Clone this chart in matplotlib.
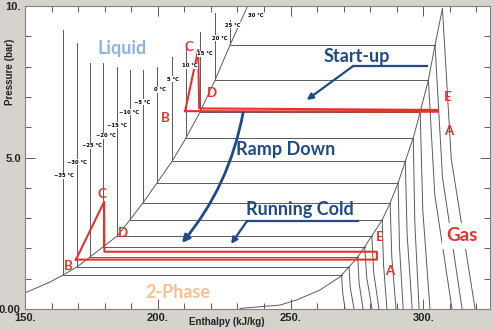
import matplotlib
matplotlib.use('Agg')
import matplotlib.pyplot as plt

# saturated liquid / vapour lines (h kJ/kg, P bar)
liq_h = [150.0, 159.4, 164.3, 169.6, 174.5, 179.4, 184.7, 189.5, 194.4, 199.7,
         205.4, 210.6, 215.9, 221.6, 227.2, 234.0]
liq_p = [0.53, 0.89, 1.12, 1.39, 1.72, 2.05, 2.41, 2.94, 3.50, 4.16,
         4.88, 5.64, 6.50, 7.56, 8.71, 10.03]
vap_h = [231.0, 246.0, 252.4, 261.1, 268.6, 271.6, 275.0, 278.1, 281.1, 284.5,
         287.5, 290.5, 293.1, 296.3, 298.8, 301.9, 304.4, 307.2]
vap_p = [0.02, 0.13, 0.30, 0.63, 1.06, 1.35, 1.68, 2.08, 2.48, 2.94,
         3.50, 4.16, 4.85, 5.68, 6.50, 7.56, 8.71, 9.92]

# isotherms (-35 .. 25 C)
iso_hliq = [164.3, 169.6, 174.5, 179.4, 184.7, 189.5, 194.4, 199.7, 205.4, 210.6, 215.9, 221.6, 227.2]
iso_ptop = [9.21, 8.78, 8.12, 8.12, 7.99, 7.89, 7.89, 7.99, 8.32, 8.71, 9.14, 9.77, 9.54]
iso_psat = [1.12, 1.39, 1.72, 2.05, 2.41, 2.94, 3.50, 4.16, 4.88, 5.64, 6.50, 7.56, 8.71]
iso_hvap = [269.2, 272.0, 275.3, 277.9, 280.6, 284.5, 287.5, 290.5, 293.2, 296.2, 298.8, 301.9, 304.4]

# gas-region lines: start on vapour line, middle point, end at P = 0
gas_h0 = iso_hvap + [307.2]
gas_p0 = iso_psat + [9.92]
gas_hmid = [269.6, 272.5, 275.8, 278.7, 281.3, 285.0, 288.1, 291.0, 293.9, 296.8, 299.8, 304.3, 307.2, 310.5]
gas_hend = [270.5, 273.9, 277.3, 280.7, 283.3, 286.3, 289.7, 292.4, 295.8, 298.4, 302.5, 310.8, 314.6, 319.5]

# temperature labels
temp_labels = ['\u221235 \u00b0C', '\u221230 \u00b0C', '\u221225 \u00b0C', '\u221220 \u00b0C',
               '\u221215 \u00b0C', '\u221210 \u00b0C', '\u22125 \u00b0C', '0 \u00b0C', '5 \u00b0C',
               '10 \u00b0C', '15 \u00b0C', '20 \u00b0C', '25 \u00b0C', '30 \u00b0C']
temp_h = [164.7, 169.6, 175.2, 180.5, 184.6, 189.2, 194.1, 200.8, 205.7, 212.1, 217.8, 223.4, 228.3, 237.0]
temp_p = [4.39, 4.85, 5.38, 5.71, 6.07, 6.50, 6.83, 7.23, 7.59, 8.02, 8.42, 8.94, 9.37, 9.70]

# refrigeration cycles: B, C, D, E, A, B
startup_h = [210.3, 215.2, 215.6, 305.5, 305.5, 210.3]
startup_p = [6.53, 8.55, 6.62, 6.57, 6.51, 6.53]
cold_h = [169.2, 179.8, 179.9, 282.5, 282.5, 169.2]
cold_p = [1.63, 3.54, 1.89, 1.89, 1.63, 1.63]

point_names = ['C', 'D', 'B', 'E', 'A']
startup_lab_h = [211.8, 220.4, 202.7, 309.3, 309.7]
startup_lab_p = [8.65, 7.13, 6.30, 7.00, 5.87]
cold_lab_h = [179.0, 186.9, 166.2, 283.7, 287.5]
cold_lab_p = [3.80, 2.51, 1.42, 2.38, 1.25]

grey = '#5a5a5a'
red = '#e5322a'
blue = '#1f4a8a'

fig = plt.figure(figsize=(4.93, 3.30), dpi=100)
fig.patch.set_facecolor('#d6d3ce')
ax = fig.add_axes([25 / 493, 21 / 330, 465 / 493, 303 / 330])
ax.set_xlim(150, 325.1)
ax.set_ylim(0, 10)

ax.plot(liq_h, liq_p, color=grey, lw=0.7)
ax.plot(vap_h, vap_p, color=grey, lw=0.7)
for i in range(len(iso_hliq)):
    ax.plot([iso_hliq[i], iso_hliq[i], iso_hvap[i]],
            [iso_ptop[i], iso_psat[i], iso_psat[i]], color=grey, lw=0.7)
for i in range(len(gas_h0)):
    ax.plot([gas_h0[i], gas_hmid[i], gas_hend[i]],
            [gas_p0[i], gas_p0[i] / 2, 0], color=grey, lw=0.7)

for t, h, p in zip(temp_labels, temp_h, temp_p):
    ax.text(h, p, t, fontsize=3.8, fontweight='bold', ha='center', va='center',
            bbox=dict(boxstyle='square,pad=0.1', fc='white', ec='none'))

ax.plot(startup_h, startup_p, color=red, lw=1.5)
ax.plot(cold_h, cold_p, color=red, lw=1.5)
for n, h, p in zip(point_names, startup_lab_h, startup_lab_p):
    ax.text(h, p, n, color=red, fontsize=9.5, family='Lato', fontweight='bold',
            ha='center', va='center')
for n, h, p in zip(point_names, cold_lab_h, cold_lab_p):
    ax.text(h, p, n, color=red, fontsize=9.5, family='Lato', fontweight='bold',
            ha='center', va='center')

# region labels
ax.text(186.5, 8.61, 'Liquid', color='#8db4e2', fontsize=13, family='Lato',
        fontweight='bold', ha='center', va='center')
ax.text(207.6, 0.53, '2-Phase', color='#fac090', fontsize=13, family='Lato',
        fontweight='bold', ha='center', va='center')
ax.text(314.6, 2.41, 'Gas', color=red, fontsize=13.5, family='Lato', fontweight='bold',
        ha='center', va='center', bbox=dict(boxstyle='square,pad=0.25', fc='white', ec='none'))

# blue callouts
ax.text(275.0, 8.32, 'Start-up', color=blue, fontsize=13, family='Lato',
        fontweight='bold', ha='center', va='center')
ax.plot([273.6, 301.5], [8.02, 8.02], color=blue, lw=1.6)
ax.annotate('', xy=(256.1, 6.90), xytext=(273.6, 8.02),
            arrowprops=dict(arrowstyle='-|>', color=blue, lw=1.6, mutation_scale=9,
                            shrinkA=0, shrinkB=0))

ax.text(248.3, 5.25, 'Ramp Down', color=blue, fontsize=13, family='Lato',
        fontweight='bold', ha='center', va='center')
ax.annotate('', xy=(209.1, 2.18), xytext=(232.1, 6.47),
            arrowprops=dict(arrowstyle='-|>', color=blue, lw=2, mutation_scale=11,
                            connectionstyle='arc3,rad=-0.13', shrinkA=0, shrinkB=0))

ax.text(253.6, 3.27, 'Running Cold', color=blue, fontsize=13, family='Lato',
        fontweight='bold', ha='center', va='center')
ax.plot([233.6, 275.4], [2.90, 2.90], color=blue, lw=1.6)
ax.annotate('', xy=(227.6, 2.15), xytext=(233.6, 2.90),
            arrowprops=dict(arrowstyle='-|>', color=blue, lw=1.6, mutation_scale=9,
                            shrinkA=0, shrinkB=0))

# axes styling
ax.set_xticks([150, 200, 250, 300])
ax.set_xticklabels(['150.', '200.', '250.', '300.'])
ax.set_xticks(range(150, 326, 10), minor=True)
ax.set_yticks([0, 5, 10])
ax.set_yticklabels(['0.00', '5.0', '10.'])
ax.set_yticks(range(0, 11), minor=True)
ax.tick_params(which='both', direction='in', top=True, right=True, color=grey, width=0.7)
ax.tick_params(which='major', length=7, pad=3)
ax.tick_params(which='minor', length=4)
for lab in ax.get_xticklabels() + ax.get_yticklabels():
    lab.set_fontweight('bold')
    lab.set_fontsize(8)
    lab.set_family('Liberation Sans')
    lab.set_color('#222222')
for s in ax.spines.values():
    s.set_color('#808080')
    s.set_linewidth(0.8)

fig.text(10 / 493, 1 - 72 / 330, 'Pressure (bar)', rotation=90, ha='center', va='center',
         fontsize=7, fontweight='bold', family='Liberation Sans', color='#222222')
fig.text(227 / 493, 1 - 322 / 330, 'Enthalpy (kJ/kg)', ha='center', va='center',
         fontsize=7, fontweight='bold', family='Liberation Sans', color='#222222')

fig.savefig('out.png', dpi=100, facecolor=fig.get_facecolor())
